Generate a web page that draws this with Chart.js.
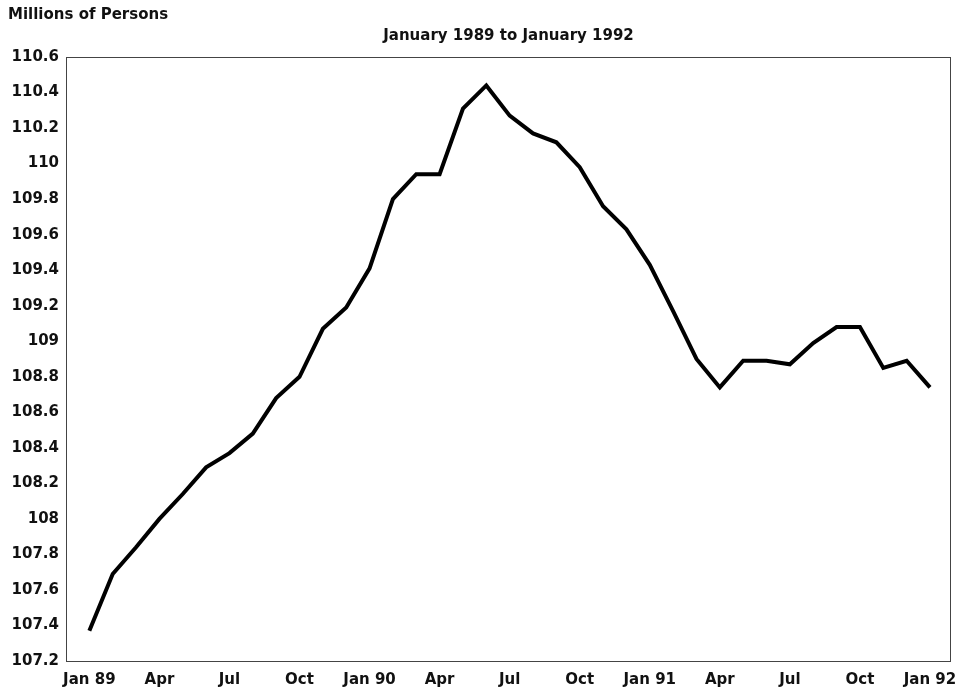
<!DOCTYPE html>
<html>
<head>
<meta charset="utf-8">
<script src="https://cdn.jsdelivr.net/npm/chart.js@4/dist/chart.umd.min.js"></script>
<style>
  html, body { margin: 0; padding: 0; background: #fff; }
  #wrap { width: 964px; height: 694px; }
</style>
</head>
<body>
<div id="wrap"><canvas id="grafico"></canvas></div>
<script>
// monthly values, Jan 1989 .. Jan 1992 (millions of persons)
const valores = [
  107.37, 107.69, 107.84, 108.00, 108.14, 108.29, 108.37, 108.48, 108.68, 108.80, 109.07, 109.19,
  109.41, 109.80, 109.94, 109.94, 110.31, 110.44, 110.27, 110.17, 110.12, 109.98, 109.76, 109.63,
  109.43, 109.17, 108.90, 108.74, 108.89, 108.89, 108.87, 108.99, 109.08, 109.08, 108.85, 108.89,
  108.74
];
const etiquetasMes = ['Jan 89', 'Apr', 'Jul', 'Oct', 'Jan 90', 'Apr', 'Jul', 'Oct', 'Jan 91', 'Apr', 'Jul', 'Oct', 'Jan 92'];
const mesesTick = [0, 3, 6, 9, 12, 15, 18, 21, 24, 27, 30, 33, 36];
const yMin = 107.2, yMax = 110.6, yPaso = 0.2;

const puntos = valores.map((v, i) => ({ x: i, y: v }));
const fuente = 'DejaVu Sans';

const textosPlugin = {
  id: 'textos',
  afterDraw(chart) {
    const ctx = chart.ctx;
    const a = chart.chartArea;
    ctx.save();
    // frame
    ctx.strokeStyle = '#444';
    ctx.lineWidth = 1;
    ctx.strokeRect(a.left + 0.5, a.top + 0.5, a.right - a.left - 1, a.bottom - a.top);
    ctx.fillStyle = '#111';
    ctx.textBaseline = 'middle';
    ctx.font = 'bold 15px "' + fuente + '"';
    ctx.textAlign = 'left';
    ctx.fillText('Millions of Persons', 8, 15);
    ctx.textAlign = 'center';
    ctx.fillText('January 1989 to January 1992', (a.left + a.right) / 2, 36);
    ctx.restore();
  }
};

const ctx = document.getElementById('grafico').getContext('2d');
new Chart(ctx, {
  type: 'line',
  data: {
    datasets: [{
      data: puntos,
      borderColor: '#000',
      borderWidth: 4,
      pointRadius: 0,
      tension: 0,
      fill: false
    }]
  },
  options: {
    responsive: true,
    maintainAspectRatio: false,
    animation: false,
    layout: { padding: { top: 57, right: 13, left: 0, bottom: 0 } },
    plugins: {
      legend: { display: false },
      tooltip: { enabled: false }
    },
    scales: {
      x: {
        type: 'linear',
        min: -1,
        max: 36.9,
        grid: { display: false, drawTicks: false },
        border: { display: false },
        afterBuildTicks: (scale) => {
          scale.ticks = mesesTick.map(v => ({ value: v }));
        },
        afterFit: (scale) => {
          scale.height = 33;
          scale.paddingLeft = 0;
          scale.paddingRight = 0;
        },
        ticks: {
          autoSkip: false,
          maxRotation: 0,
          padding: 10,
          color: '#111',
          font: { family: fuente, size: 15, weight: 'bold' },
          callback: (v) => {
            const k = mesesTick.indexOf(v);
            return k >= 0 ? etiquetasMes[k] : '';
          }
        }
      },
      y: {
        min: yMin,
        max: yMax,
        grid: { display: false, drawTicks: false },
        border: { display: false },
        afterFit: (scale) => { scale.width = 66; },
        ticks: {
          stepSize: yPaso,
          padding: 7,
          color: '#111',
          font: { family: fuente, size: 15, weight: 'bold' },
          callback: (v) => String(Math.round(v * 10) / 10)
        }
      }
    }
  },
  plugins: [textosPlugin]
});
</script>
</body>
</html>
